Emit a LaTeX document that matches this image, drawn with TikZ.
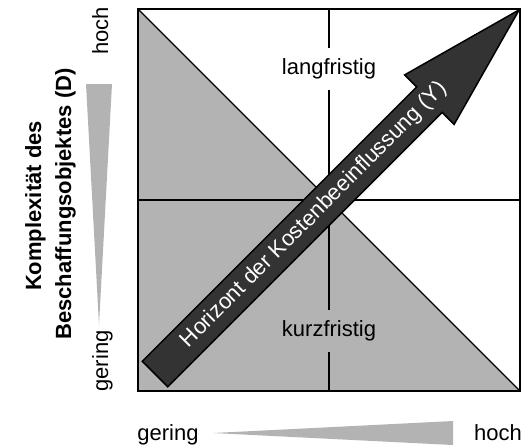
\documentclass[tikz,border=0pt]{standalone}
\usepackage{fontspec}
\setmainfont{Liberation Sans}
\definecolor{fieldgray}{RGB}{179,179,179}
\definecolor{arrowgray}{RGB}{51,51,51}
\tikzset{
  txt/.style={font=\fontsize{11}{13}\selectfont, inner sep=0pt},
  boldtxt/.style={font=\fontsize{11}{13}\selectfont\bfseries, inner sep=0pt},
  gap/.style={txt, inner xsep=2pt, inner ysep=5.5pt}
}

\begin{document}
\begin{tikzpicture}[x=0.5pt,y=-0.5pt]
  \useasboundingbox (0,0) rectangle (528,447);

  % Draw the gray triangle and the quadrants
  \fill[fieldgray] (138,9) -- (138,391) -- (520,391) -- cycle;
  \draw[line width=0.6pt] (329,9) -- (329,391);
  \draw[line width=0.6pt] (138,200) -- (520,200);
  \draw[line width=0.6pt] (138,9) -- (520,391);
  \draw[line width=1pt] (138,9) rectangle (520,391);

  \node[gap, fill=white] (lang) at (329,69) {langfristig};
  \node[gap, fill=fieldgray] (kurz) at (329,331) {kurzfristig};

  % Draw the big arrow
  \begin{scope}[shift={(155,374)}, rotate=45]
    \filldraw[fill=arrowgray, draw=black, line width=0.75pt]
      (0,-18) -- (388,-18) -- (388,-35) -- (515,0) -- (388,35) -- (388,18) -- (0,18) -- cycle;
    \node[txt, white, rotate=45] (horizont) at (225,0) {Horizont der Kostenbeeinflussung (Y)};
  \end{scope}

  % Draw the axis wedges
  \fill[fieldgray] (86,84) -- (112,84) -- (99,325) -- cycle;
  \fill[fieldgray] (213,433) -- (453,421) -- (453,445) -- cycle;

  \node[txt, rotate=90, anchor=base] (hochD) at (108,31) {hoch};
  \node[txt, rotate=90, anchor=base] (geringD) at (108,361) {gering};
  \node[boldtxt, rotate=90, anchor=base] (komplex) at (41,206) {Komplexität des};
  \node[boldtxt, rotate=90, anchor=base] (objekt) at (71,204) {Beschaffungsobjektes (D)};

  \node[txt, anchor=base] (geringY) at (168,440) {gering};
  \node[txt, anchor=base] (hochY) at (498,440) {hoch};
\end{tikzpicture}
\end{document}
